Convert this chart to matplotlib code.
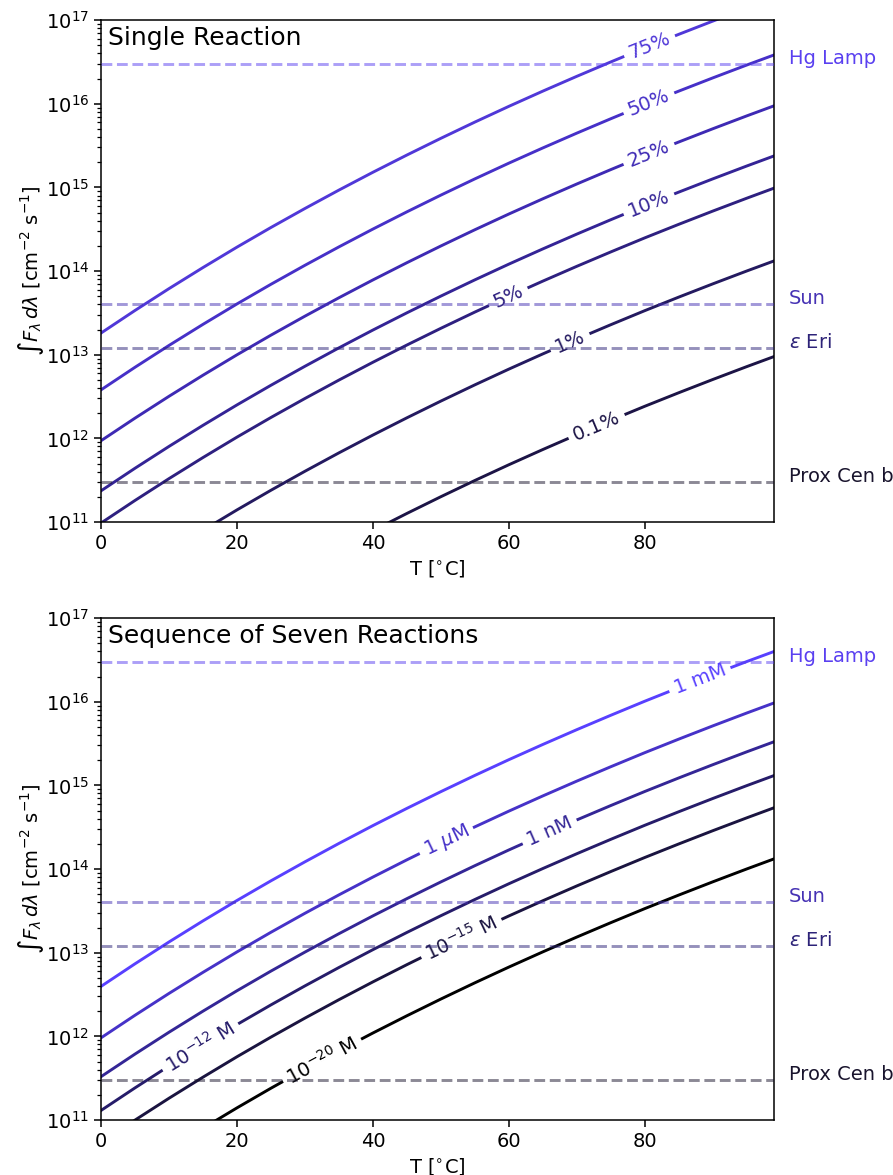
import numpy as np
import matplotlib
matplotlib.use('Agg')
import matplotlib.pyplot as plt

temps = [0, 5, 10, 15, 20, 25, 30, 35, 40, 45, 50, 55, 60, 65, 70, 75, 80, 85, 90, 95, 99]

# log10 des benoetigten Flusses, eine Reaktion
single_0p1 = [8.975, 9.245, 9.506, 9.758, 10.002, 10.237, 10.464, 10.684, 10.897, 11.103, 11.303,
              11.497, 11.685, 11.867, 12.044, 12.216, 12.384, 12.546, 12.704, 12.858, 12.978]
single_1 = [10.118, 10.388, 10.649, 10.901, 11.145, 11.380, 11.607, 11.827, 12.040, 12.246, 12.446,
            12.640, 12.828, 13.010, 13.187, 13.359, 13.527, 13.689, 13.847, 14.001, 14.121]
single_5 = [10.988, 11.258, 11.519, 11.771, 12.015, 12.250, 12.477, 12.697, 12.910, 13.116, 13.316,
            13.510, 13.698, 13.880, 14.057, 14.229, 14.397, 14.559, 14.717, 14.871, 14.991]
single_10 = [11.373, 11.643, 11.904, 12.156, 12.400, 12.635, 12.862, 13.082, 13.295, 13.501, 13.701,
             13.895, 14.083, 14.265, 14.442, 14.614, 14.782, 14.944, 15.102, 15.256, 15.376]
single_25 = [11.972, 12.242, 12.503, 12.755, 12.999, 13.234, 13.461, 13.681, 13.894, 14.100, 14.300,
             14.494, 14.682, 14.864, 15.041, 15.213, 15.381, 15.543, 15.701, 15.855, 15.975]
single_50 = [12.580, 12.850, 13.111, 13.363, 13.607, 13.842, 14.069, 14.289, 14.502, 14.708, 14.908,
             15.102, 15.290, 15.472, 15.649, 15.821, 15.989, 16.151, 16.309, 16.463, 16.583]
single_75 = [13.259, 13.529, 13.790, 14.042, 14.286, 14.521, 14.748, 14.968, 15.181, 15.387, 15.587,
             15.781, 15.969, 16.151, 16.328, 16.500, 16.668, 16.830, 16.988, 17.142, 17.262]
single_labels = ['0.1%', '1%', '5%', '10%', '25%', '50%', '75%']

# log10 des benoetigten Flusses, Folge von sieben Reaktionen
seq_1e20 = [10.118, 10.388, 10.649, 10.901, 11.145, 11.380, 11.607, 11.827, 12.040, 12.246, 12.446,
            12.640, 12.828, 13.010, 13.187, 13.359, 13.527, 13.689, 13.847, 14.001, 14.121]
seq_1e15 = [10.729, 10.999, 11.260, 11.512, 11.756, 11.991, 12.218, 12.438, 12.651, 12.857, 13.057,
            13.251, 13.439, 13.621, 13.798, 13.970, 14.138, 14.300, 14.458, 14.612, 14.732]
seq_1e12 = [11.114, 11.384, 11.645, 11.897, 12.141, 12.376, 12.603, 12.823, 13.036, 13.242, 13.442,
            13.636, 13.824, 14.006, 14.183, 14.355, 14.523, 14.685, 14.843, 14.997, 15.117]
seq_1nM = [11.518, 11.788, 12.049, 12.301, 12.545, 12.780, 13.007, 13.227, 13.440, 13.646, 13.846,
           14.040, 14.228, 14.410, 14.587, 14.759, 14.927, 15.089, 15.247, 15.401, 15.521]
seq_1uM = [11.982, 12.252, 12.513, 12.765, 13.009, 13.244, 13.471, 13.691, 13.904, 14.110, 14.310,
           14.504, 14.692, 14.874, 15.051, 15.223, 15.391, 15.553, 15.711, 15.865, 15.985]
seq_1mM = [12.597, 12.867, 13.128, 13.380, 13.624, 13.859, 14.086, 14.306, 14.519, 14.725, 14.925,
           15.119, 15.307, 15.489, 15.666, 15.838, 16.006, 16.168, 16.326, 16.480, 16.600]
seq_labels = [r'$10^{-20}$ M', r'$10^{-15}$ M', r'$10^{-12}$ M', '1 nM', r'1 $\mu$M', '1 mM']

# Lichtquellen
source_names = ['Hg Lamp', 'Sun', r'$\varepsilon$ Eri', 'Prox Cen b']
source_flux = [3e16, 4e13, 1.2e13, 3e11]

# Darstellung
single_colors = ['#1c1446', '#241a60', '#2e2080', '#342496', '#3e2ab4', '#4630c8', '#5038d8']
single_label_T = [72.9, 69.0, 59.9, 80.6, 80.6, 80.6, 80.7]
seq_colors = ['#000000', '#1a1440', '#261c6a', '#342696', '#4632c8', '#5840ff']
seq_label_T = [32.5, 53.0, 14.6, 66.0, 50.8, 88.1]
source_colors = ['#5a40f0', '#4632b4', '#2d2378', '#19142d']

plt.rcParams['font.size'] = 14


def addInlineLabel(ax, xs, logys, xLabel, text, color):
    # Beschriftung direkt auf der Kurve, gedreht wie die Kurve
    y = 10 ** np.interp(xLabel, xs, logys)
    p1 = ax.transData.transform((xLabel - 2.5, 10 ** np.interp(xLabel - 2.5, xs, logys)))
    p2 = ax.transData.transform((xLabel + 2.5, 10 ** np.interp(xLabel + 2.5, xs, logys)))
    angle = np.degrees(np.arctan2(p2[1] - p1[1], p2[0] - p1[0]))
    ax.text(xLabel, y, text, color=color, rotation=angle, rotation_mode='anchor',
            ha='center', va='center', fontsize=14, zorder=3,
            bbox=dict(fc='white', ec='none', pad=4))


def drawPanel(ax, curves, labels, colors, labelT, title):
    ax.set_yscale('log')
    ax.set_xlim(0, 99)
    ax.set_ylim(1e11, 1e17)

    for logys, label, color, xl in zip(curves, labels, colors, labelT):
        ax.plot(temps, 10 ** np.array(logys), color=color, lw=2.1, zorder=2,
                solid_joinstyle='round')
        addInlineLabel(ax, temps, logys, xl, label, color)

    for name, flux, color in zip(source_names, source_flux, source_colors):
        ax.axhline(flux, color=color, ls='--', lw=2.1, alpha=0.5, zorder=4)
        ax.text(1.022, flux, name, color=color, va='baseline', ha='left',
                transform=ax.get_yaxis_transform(), fontsize=14)

    ax.text(0.011, 0.988, title, transform=ax.transAxes, ha='left', va='top', fontsize=18)
    ax.set_xticks([0, 20, 40, 60, 80])
    ax.set_xlabel(r'T [$^{\circ}$C]')
    ax.set_ylabel(r'$\int F_\lambda\, d\lambda$ [cm$^{-2}$ s$^{-1}$]', labelpad=0)
    ax.tick_params(which='major', length=5, width=1.1)
    ax.tick_params(which='minor', length=3, width=0.9)
    for s in ax.spines.values():
        s.set_linewidth(1.1)


fig = plt.figure(figsize=(8.93, 11.75), dpi=100)
ax1 = fig.add_axes([0.1131, 0.5557, 0.7536, 0.4272])
ax2 = fig.add_axes([0.1131, 0.0468, 0.7536, 0.4272])

drawPanel(ax1,
          [single_0p1, single_1, single_5, single_10, single_25, single_50, single_75],
          single_labels, single_colors, single_label_T, 'Single Reaction')
drawPanel(ax2,
          [seq_1e20, seq_1e15, seq_1e12, seq_1nM, seq_1uM, seq_1mM],
          seq_labels, seq_colors, seq_label_T, 'Sequence of Seven Reactions')

fig.savefig('out.png', dpi=100)
